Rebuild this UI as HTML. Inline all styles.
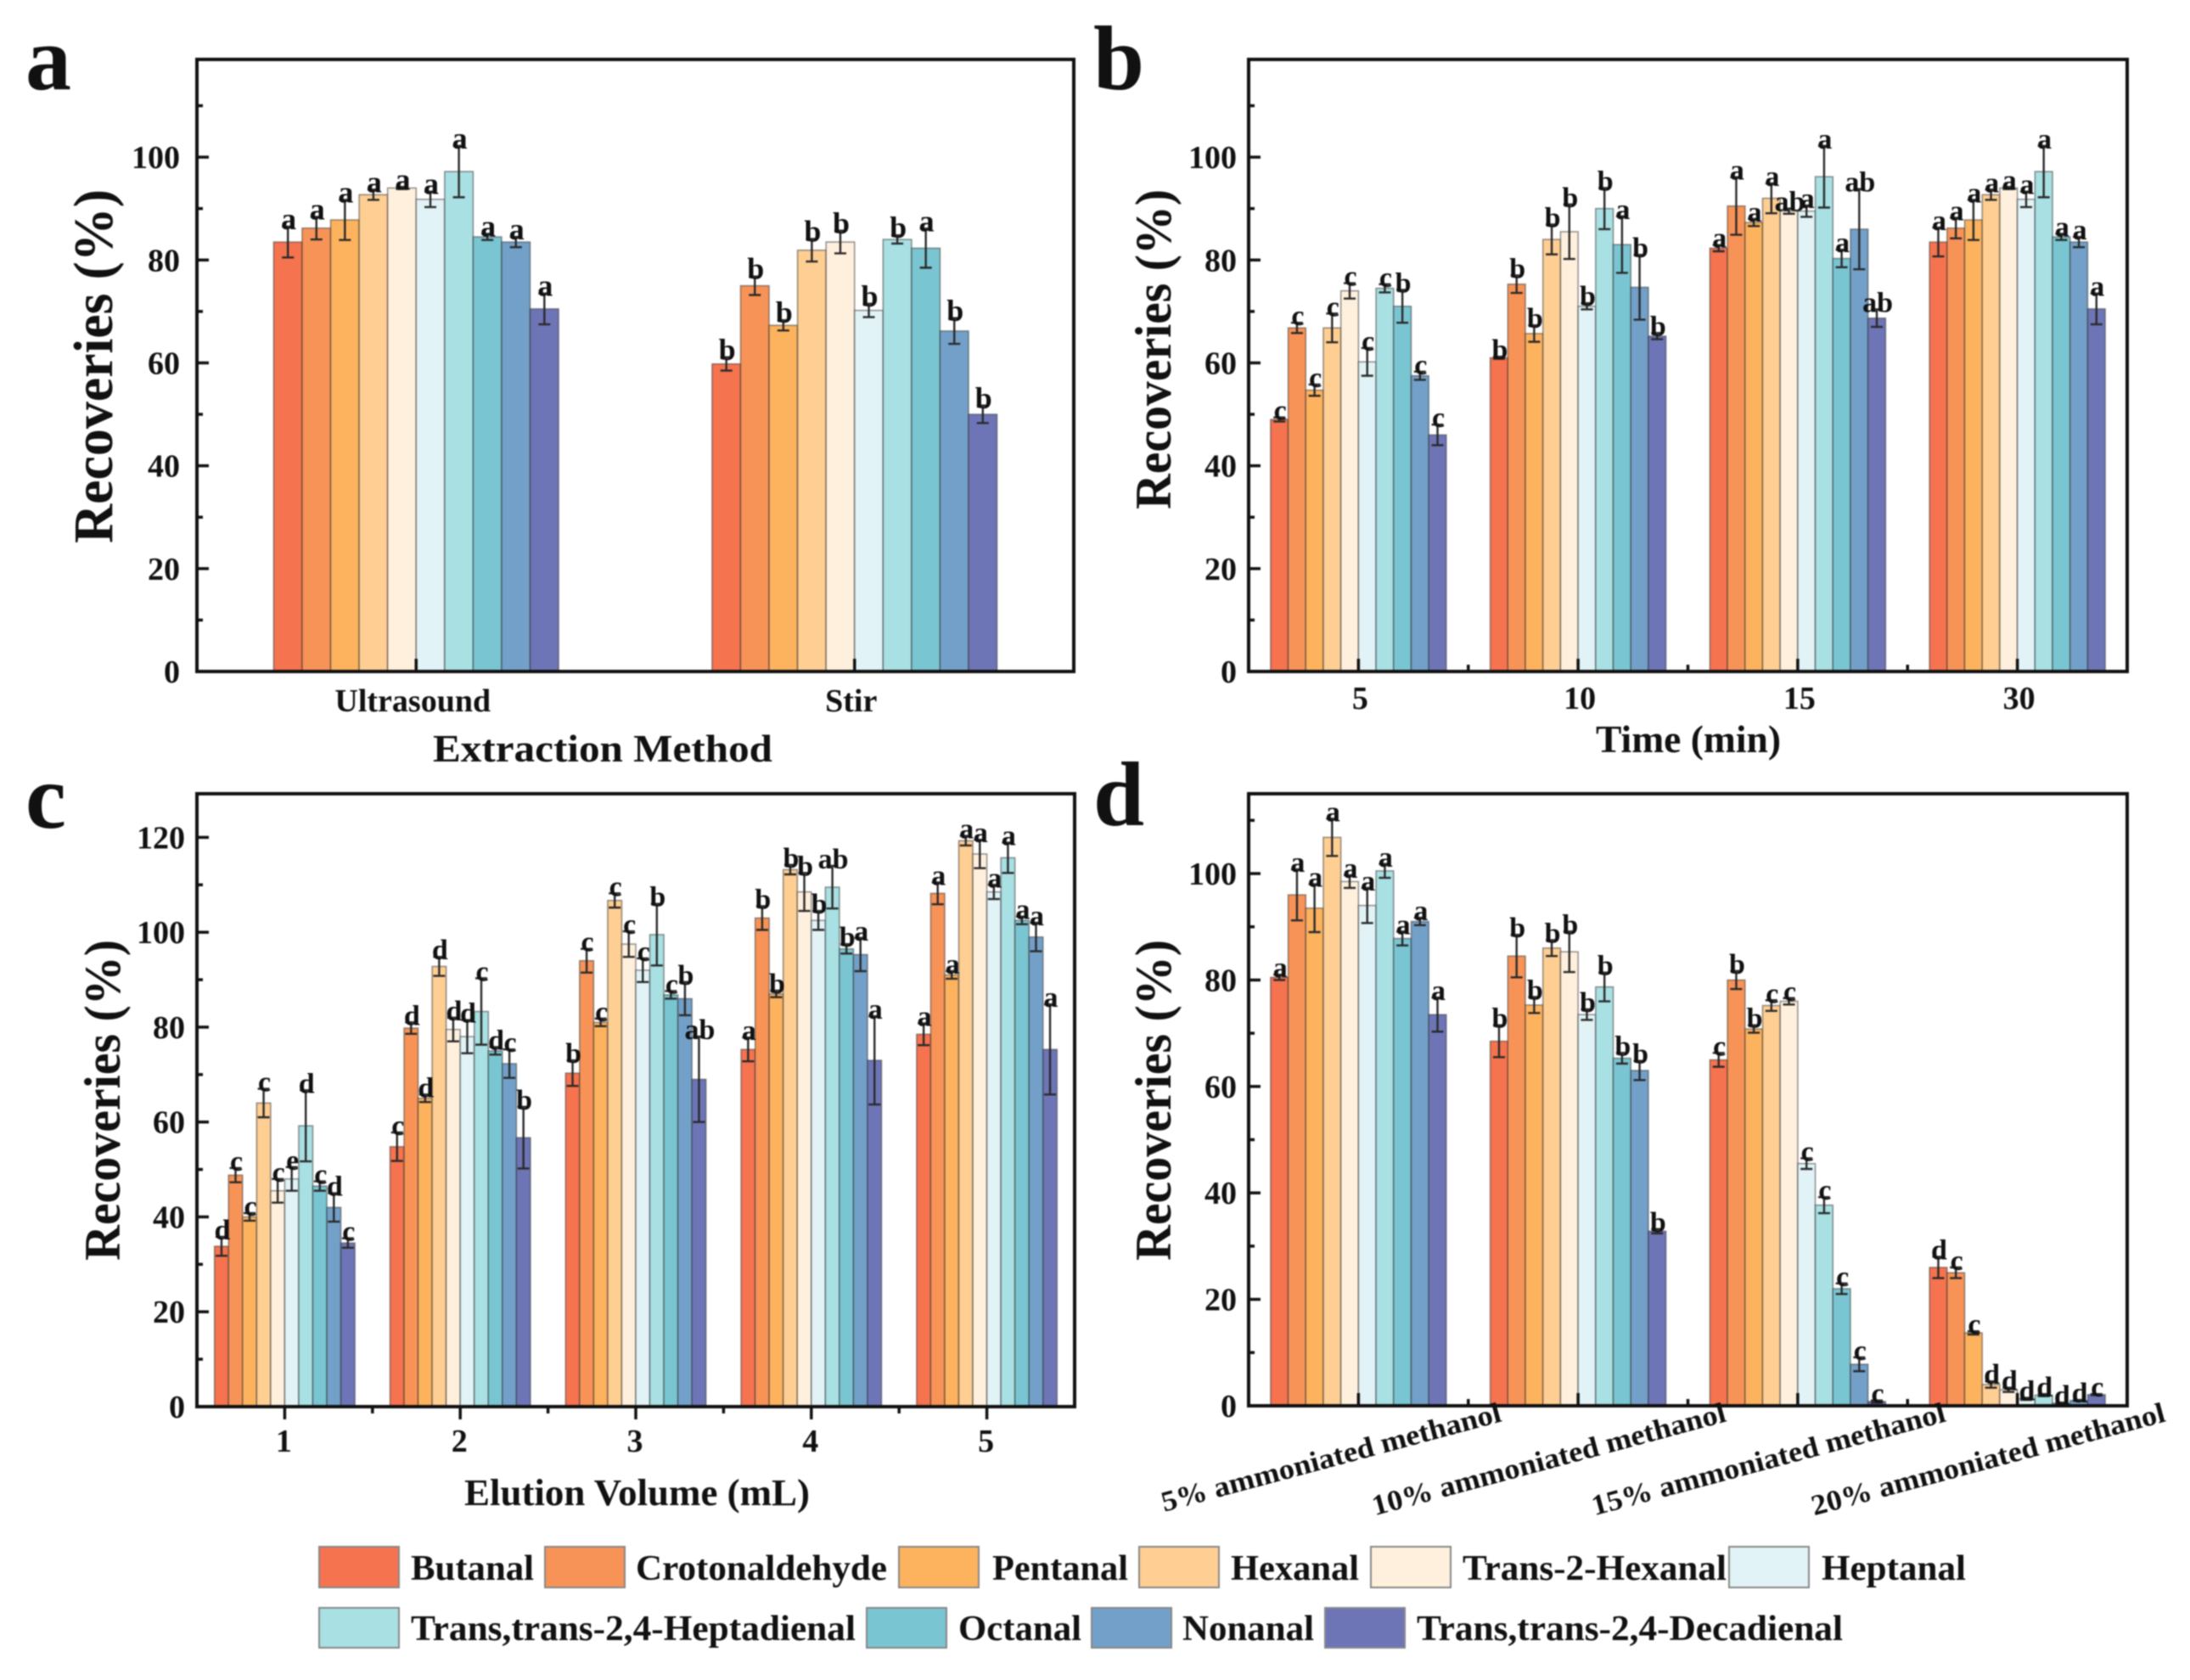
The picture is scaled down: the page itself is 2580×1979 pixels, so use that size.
<!DOCTYPE html>
<html lang="en">
<head>
<meta charset="utf-8">
<title>Recoveries of aldehydes under extraction conditions</title>
<style>
html,body{margin:0;padding:0;background:#fff;}
#figure{display:block;width:2580px;height:1979px;filter:blur(0.7px);}
text{font-family:"Liberation Serif",serif;font-weight:bold;fill:#111;}
</style>
</head>
<body>
<svg id="figure" xmlns="http://www.w3.org/2000/svg" width="2580" height="1979" viewBox="0 0 2580 1979">
  <rect width="2580" height="1979" fill="#fff"/>
  <g id="charts"></g>

  <text x="30" y="105" font-size="108">a</text>
  <text x="1288" y="105" font-size="108">b</text>
  <text x="30" y="975" font-size="108">c</text>
  <text x="1288" y="972" font-size="108">d</text>

  <text transform="translate(132,640) rotate(-90)" font-size="66" textLength="417" lengthAdjust="spacingAndGlyphs">Recoveries (%)</text>
  <text transform="translate(1379,600) rotate(-90)" font-size="60" textLength="377" lengthAdjust="spacingAndGlyphs">Recoveries (%)</text>
  <text transform="translate(141,1485) rotate(-90)" font-size="60" textLength="378" lengthAdjust="spacingAndGlyphs">Recoveries (%)</text>
  <text transform="translate(1379,1485) rotate(-90)" font-size="60" textLength="378" lengthAdjust="spacingAndGlyphs">Recoveries (%)</text>

  <text x="510" y="897" font-size="46" textLength="400" lengthAdjust="spacingAndGlyphs">Extraction Method</text>
  <text x="1880" y="886" font-size="46" textLength="218" lengthAdjust="spacingAndGlyphs">Time (min)</text>
  <text x="547" y="1773" font-size="44" textLength="407" lengthAdjust="spacingAndGlyphs">Elution Volume (mL)</text>

  <g font-size="42">
    <g><rect x="376" y="1832" width="94" height="48" fill="#F5734F" stroke="#888" stroke-width="2" transform="translate(0,-10)"/><text x="484" y="1861" textLength="145" lengthAdjust="spacingAndGlyphs">Butanal</text></g>
    <g><rect x="642" y="1822" width="94" height="48" fill="#F89357" stroke="#888" stroke-width="2"/><text x="749" y="1861" textLength="296" lengthAdjust="spacingAndGlyphs">Crotonaldehyde</text></g>
    <g><rect x="1059" y="1822" width="94" height="48" fill="#FDB25E" stroke="#888" stroke-width="2"/><text x="1169" y="1861" textLength="160" lengthAdjust="spacingAndGlyphs">Pentanal</text></g>
    <g><rect x="1342" y="1822" width="94" height="48" fill="#FECE92" stroke="#888" stroke-width="2"/><text x="1450" y="1861" textLength="151" lengthAdjust="spacingAndGlyphs">Hexanal</text></g>
    <g><rect x="1615" y="1822" width="94" height="48" fill="#FFF0DD" stroke="#888" stroke-width="2"/><text x="1723" y="1861" textLength="311" lengthAdjust="spacingAndGlyphs">Trans-2-Hexanal</text></g>
    <g><rect x="2037" y="1822" width="94" height="48" fill="#E1F3F6" stroke="#888" stroke-width="2"/><text x="2146" y="1861" textLength="170" lengthAdjust="spacingAndGlyphs">Heptanal</text></g>
    <g><rect x="376" y="1894" width="94" height="47" fill="#A9E0E3" stroke="#888" stroke-width="2"/><text x="484" y="1932" textLength="524" lengthAdjust="spacingAndGlyphs">Trans,trans-2,4-Heptadienal</text></g>
    <g><rect x="1021" y="1894" width="94" height="47" fill="#7AC5D2" stroke="#888" stroke-width="2"/><text x="1129" y="1932" textLength="145" lengthAdjust="spacingAndGlyphs">Octanal</text></g>
    <g><rect x="1286" y="1894" width="94" height="47" fill="#72A0C8" stroke="#888" stroke-width="2"/><text x="1393" y="1932" textLength="155" lengthAdjust="spacingAndGlyphs">Nonanal</text></g>
    <g><rect x="1561" y="1894" width="94" height="47" fill="#6D75B7" stroke="#888" stroke-width="2"/><text x="1669" y="1932" textLength="502" lengthAdjust="spacingAndGlyphs">Trans,trans-2,4-Decadienal</text></g>
  </g>
</svg>

<script>
// Shared series
const seriesNames = ['Butanal','Crotonaldehyde','Pentanal','Hexanal','Trans-2-Hexanal','Heptanal','Trans,trans-2,4-Heptadienal','Octanal','Nonanal','Trans,trans-2,4-Decadienal'];

// Panel a: extraction method
const methodCategories = ['Ultrasound','Stir'];
const methodValues = [
  [83.5,86.2,87.8,92.7,94,91.8,97.2,84.5,83.5,70.5],
  [59.8,75,67.3,81.9,83.5,70.2,84,82.3,66.2,50]
];
const methodErrors = [
  [3,2.2,3.9,1,0.2,1.5,5,0.6,1,3],
  [1.3,1.8,1,2.2,2.2,1.3,0.8,3.8,2.5,1.7]
];
const methodLetters = [
  ['a','a','a','a','a','a','a','a','a','a'],
  ['b','b','b','b','b','b','b','a','b','b']
];
const methodYTicks = [0,20,40,60,80,100];

// Panel b: extraction time
const timeCategories = ['5','10','15','30'];
const timeValues = [
  [49,66.8,54.7,66.8,74,60.2,74.5,71,57.5,46],
  [61,75.3,65.7,84,85.5,71,90,83,74.7,65.2],
  [82.3,90.5,87.3,92,89.5,89.5,96.2,80.3,86,68.7],
  [83.5,86.2,87.8,92.7,94,91.8,97.2,84.5,83.5,70.5]
];
const timeErrors = [
  [0.4,1,1.1,2.8,1.5,2.7,0.8,3.2,0.8,2],
  [0.2,1.7,1.6,2.9,5.3,0.6,4,5.5,6.3,0.6],
  [0.6,5.6,0.7,2.9,0.5,1.1,6,1.7,7.8,1.7],
  [2.8,2,3.9,1,0.2,1.5,5,0.6,1,3]
];
const timeLetters = [
  ['c','c','c','c','c','c','c','b','c','c'],
  ['b','b','b','b','b','b','b','a','b','b'],
  ['a','a','a','a','ab','a','a','a','ab','ab'],
  ['a','a','a','a','a','a','a','a','a','a']
];
const timeYTicks = [0,20,40,60,80,100];

// Panel c: elution volume
const volumeCategories = ['1','2','3','4','5'];
const volumeValues = [
  [33.8,48.8,40,64,45.5,48,59.2,46.5,42,34.5],
  [54.8,79.8,65,92.8,79.5,78,83.3,75,72.3,56.7],
  [70.3,94,81,106.7,97.5,92,99.5,86.8,86,69],
  [75.3,103,87,113.2,108.5,102.5,109.5,96.5,95.3,73],
  [78.5,108.2,91,119.3,116.5,108.5,115.7,102.5,99,75.3]
];
const volumeErrors = [
  [2,1.5,0.8,3,2.5,2.5,7.5,1,3,1],
  [3,1.2,0.8,2,2.5,3.5,7,0.8,3,6.5],
  [2.7,2.5,0.8,1.5,2.7,2.5,6.5,0.8,3.5,9],
  [2.5,2.5,0.7,1,4,2,4.5,1,3.5,9.3],
  [2.3,2.3,0.8,1,3,1.5,3.2,0.8,3,9.5]
];
const volumeLetters = [
  ['d','c','c','c','c','e','d','c','d','c'],
  ['c','d','d','d','d','d','c','d','c','b'],
  ['b','c','c','c','c','c','b','c','b','ab'],
  ['a','b','b','b','b','b','ab','b','a','a'],
  ['a','a','a','a','a','a','a','a','a','a']
];
const volumeYTicks = [0,20,40,60,80,100,120];

// Panel d: solvent
const solventCategories = ['5% ammoniated methanol','10% ammoniated methanol','15% ammoniated methanol','20% ammoniated methanol'];
const solventValues = [
  [80.5,96,93.5,106.8,98.5,94,100.5,87.8,91,73.5],
  [68.5,84.5,75.3,86,85.3,73.5,78.7,65.3,63,32.8],
  [65,80,70.8,75.2,76,45.5,37.7,22,7.8,0.8],
  [26,25,13.7,4,3,1.3,2,0.5,1,2.1]
];
const solventErrors = [
  [0.5,4.8,4.5,3.5,1.2,3.3,1.3,1.3,0.7,3.2],
  [3,4,1.5,1.5,3.8,1,2.7,1,1.8,0.4],
  [1.3,1.7,0.7,1,0.6,1,1.5,1,1.3,0.2],
  [2,1,0.3,0.6,0.4,0.2,0.2,0.1,0.1,0.1]
];
const solventLetters = [
  ['a','a','a','a','a','a','a','a','a','a'],
  ['b','b','b','b','b','b','b','b','b','b'],
  ['c','b','b','c','c','c','c','c','c','c'],
  ['d','c','c','d','d','d','d','d','d','c']
];
const solventYTicks = [0,20,40,60,80,100];

const seriesColors = ['#F5734F','#F89357','#FDB25E','#FECE92','#FFF0DD','#E1F3F6','#A9E0E3','#7AC5D2','#72A0C8','#6D75B7'];

const NS = 'http://www.w3.org/2000/svg';
const root = document.getElementById('charts');

function make(tag, attrs, parent) {
  const node = document.createElementNS(NS, tag);
  for (const k in attrs) node.setAttribute(k, attrs[k]);
  parent.appendChild(node);
  return node;
}
function slug(s) {
  return s.toLowerCase().replace(/[^a-z0-9]+/g, '-').replace(/^-|-$/g, '');
}

function drawPanel(p) {
  const xScale = i => p.left + (i + 0.5) * (p.right - p.left) / p.categories.length;
  const yScale = v => p.zero - v * (p.zero - p.top) / p.yMax;
  const groupWidth = p.groupFrac * (p.right - p.left) / p.categories.length;
  const barWidth = groupWidth / seriesNames.length;
  const barX = (c, s) => xScale(c) - groupWidth / 2 + s * barWidth;

  const g = make('g', {}, root);
  
  

  p.categories.forEach((cat, c) => {
    const group = make('g', {}, g);
    
    
    seriesNames.forEach((name, s) => {
      const v = p.values[c][s];
      const bar = make('rect', {
        x: barX(c, s), y: yScale(v), width: barWidth, height: p.zero - yScale(v),
        fill: seriesColors[s], stroke: 'rgba(50,50,50,0.5)', 'stroke-width': 1.6
      }, group);
      
      
    });
    seriesNames.forEach((name, s) => {
      const v = p.values[c][s], e = p.errors[c][s];
      const cx = barX(c, s) + barWidth / 2;
      const err = make('path', {
        d: 'M' + cx + ' ' + yScale(v - e) + 'V' + yScale(v + e) +
           'M' + (cx - 7) + ' ' + yScale(v + e) + 'h14' +
           'M' + (cx - 7) + ' ' + yScale(v - e) + 'h14',
        stroke: '#2a2a2a', 'stroke-width': 2.4, fill: 'none'
      }, group);
      
      
      const lab = make('text', {
        x: cx + 1, y: yScale(v + e) + 3, 'font-size': p.letterSize, 'text-anchor': 'middle'
      }, group);
      
      
      lab.textContent = p.letters[c][s];
    });
  });

  // Y axis ticks and labels
  const yAxis = make('g', {}, g);
  
  
  p.yTicks.forEach(t => {
    make('line', {x1: p.left, x2: p.left + 14, y1: yScale(t), y2: yScale(t), stroke: '#111', 'stroke-width': 3.5}, yAxis);
    const minor = t + (p.yTicks[1] - p.yTicks[0]) / 2;
    if (minor < p.yMax) make('line', {x1: p.left, x2: p.left + 7, y1: yScale(minor), y2: yScale(minor), stroke: '#111', 'stroke-width': 3.5}, yAxis);
    const lab = make('text', {x: p.left - p.labelGap, y: yScale(t) + 13, 'font-size': 38, 'text-anchor': 'end'}, yAxis);
    
    
    lab.textContent = t;
  });

  // X axis ticks and labels
  const xAxis = make('g', {}, g);
  
  
  const dir = p.ticksOut ? 1 : -1;
  const span = (p.right - p.left) / p.categories.length;
  p.categories.forEach((cat, c) => {
    make('line', {x1: xScale(c), x2: xScale(c), y1: p.zero, y2: p.zero + dir * 15, stroke: '#111', 'stroke-width': 3.5}, xAxis);
    if (p.minorX && c > 0) make('line', {x1: xScale(c) - span / 2, x2: xScale(c) - span / 2, y1: p.zero, y2: p.zero + dir * 8, stroke: '#111', 'stroke-width': 3.5}, xAxis);
    if (p.rotated) {
      const lab = make('text', {
        transform: 'translate(' + (xScale(c) + p.rotOffset + (c === 0 ? 0 : 6)) + ',' + p.tickBaseline + ') rotate(-15)',
        'font-size': 34, 'text-anchor': 'end', textLength: c === 0 ? 413 : 430, lengthAdjust: 'spacingAndGlyphs'
      }, xAxis);
      
      
      lab.textContent = cat;
    } else {
      const lab = make('text', {x: xScale(c) + p.labelShift, y: p.tickBaseline, 'font-size': p.tickSize, 'text-anchor': 'middle'}, xAxis);
      
      
      lab.textContent = cat;
    }
  });

  const frame = make('rect', {
    x: p.left, y: p.top, width: p.right - p.left, height: p.zero - p.top,
    fill: 'none', stroke: '#111', 'stroke-width': 4
  }, g);
  
  
}

drawPanel({id:'a', left:232, right:1265, top:70, zero:791, yMax:119, groupFrac:0.65, labelGap:20,
  categories:methodCategories, values:methodValues, errors:methodErrors, letters:methodLetters, yTicks:methodYTicks,
  tickBaseline:838, tickSize:38, letterSize:36, minorX:false, ticksOut:false, labelShift:-4});
drawPanel({id:'b', left:1471, right:2506, top:70, zero:791, yMax:119, groupFrac:0.8, labelGap:14,
  categories:timeCategories, values:timeValues, errors:timeErrors, letters:timeLetters, yTicks:timeYTicks,
  tickBaseline:835, tickSize:38, letterSize:34, minorX:true, ticksOut:false, labelShift:2});
drawPanel({id:'c', left:232, right:1266, top:935, zero:1657, yMax:129.2, groupFrac:0.8, labelGap:14,
  categories:volumeCategories, values:volumeValues, errors:volumeErrors, letters:volumeLetters, yTicks:volumeYTicks,
  tickBaseline:1710, tickSize:38, letterSize:34, minorX:true, ticksOut:true, labelShift:-1});
drawPanel({id:'d', left:1471, right:2506, top:935, zero:1656, yMax:115, groupFrac:0.8, labelGap:14,
  categories:solventCategories, values:solventValues, errors:solventErrors, letters:solventLetters, yTicks:solventYTicks,
  tickBaseline:1674, tickSize:38, letterSize:34, minorX:true, ticksOut:false, rotated:true, rotOffset:170, labelShift:0});
</script>
</body>
</html>
